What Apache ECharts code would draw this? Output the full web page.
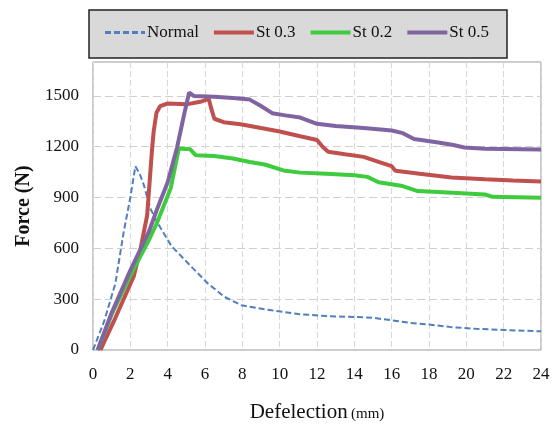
<!DOCTYPE html>
<html>
<head>
<meta charset="utf-8">
<script src="https://cdn.jsdelivr.net/npm/echarts@6/dist/echarts.min.js"></script>
<style>
  html, body { margin: 0; padding: 0; background: #fff; }
  #chart { width: 557px; height: 440px; }
</style>
</head>
<body>
<div id="chart"></div>
<script>
// values: [deflection mm, force N]
var normalData = [[0, 0], [0.6, 170], [1.2, 394], [1.64, 694], [2, 900], [2.27, 1084], [2.5, 1040],
  [2.72, 975], [3.08, 834], [3.44, 754], [4.2, 614], [5.25, 494], [6.14, 394], [7.04, 314],
  [7.95, 264], [9.57, 234], [11, 212], [12.5, 200], [14, 195], [15, 190], [16, 175], [17, 160],
  [18, 150], [19.2, 135], [20.5, 125], [22, 118], [24, 110]];
var st03Data = [[0.4, 0], [1.2, 190], [2.18, 434], [2.54, 594], [2.9, 794], [3.17, 1194], [3.25, 1290],
  [3.4, 1400], [3.6, 1440], [4, 1455], [5, 1450], [5.75, 1465], [6.2, 1482], [6.35, 1420],
  [6.5, 1365], [7, 1345], [7.9, 1333], [9, 1310], [10, 1290], [11.1, 1262], [12, 1240],
  [12.3, 1200], [12.6, 1170], [13.5, 1155], [14.5, 1140], [15.3, 1110], [16, 1085], [16.2, 1058],
  [17.5, 1040], [19.2, 1018], [21, 1008], [22.5, 1000], [24, 994]];
var st02Data = [[0.25, 0], [1, 210], [2, 440], [3, 650], [3.44, 754], [4.16, 954], [4.6, 1190],
  [5.2, 1185], [5.5, 1150], [6.5, 1145], [7.5, 1130], [8.4, 1110], [9.2, 1095], [10.2, 1060],
  [11.1, 1047], [12.5, 1040], [14, 1032], [14.7, 1022], [15.3, 990], [16.5, 970], [17.4, 938],
  [19, 930], [21, 918], [21.4, 904], [24, 899]];
var st05Data = [[0.25, 0], [1, 220], [2, 470], [3, 700], [3.44, 834], [4, 990], [4.5, 1194],
  [4.9, 1400], [5.15, 1520], [5.4, 1500], [6.5, 1495], [7.5, 1488], [8.4, 1478], [9, 1440],
  [9.6, 1398], [10.3, 1385], [11.1, 1372], [12, 1335], [13, 1322], [14.5, 1310], [16, 1296],
  [16.6, 1280], [17.2, 1245], [18.5, 1225], [19.3, 1210], [19.9, 1195], [21, 1188], [24, 1184]];

var seriesNames = ['Normal', 'St 0.3', 'St 0.2', 'St 0.5'];
var seriesColors = ['#4f7fbe', '#c0504d', '#3ecb3e', '#8064a2'];

var chart = echarts.init(document.getElementById('chart'));
var serif = '"Liberation Serif", "DejaVu Serif", serif';
var dashIcon = 'path://M0,0h6v3h-6z M9,0h6v3h-6z M18,0h6v3h-6z M27,0h6v3h-6z M36,0h4v3h-4z';

function lineSeries(i, data) {
  return {
    name: seriesNames[i],
    type: 'line',
    data: data,
    symbol: 'none',
    lineStyle: {
      color: seriesColors[i],
      width: i === 0 ? 2 : 4,
      type: i === 0 ? [6, 3] : 'solid'
    },
    itemStyle: { color: seriesColors[i] }
  };
}

chart.setOption({
  animation: false,
  backgroundColor: '#fff',
  graphic: [{
    type: 'rect',
    shape: { x: 89, y: 10, width: 418, height: 48 },
    style: { fill: '#d9d9d9', stroke: '#222', lineWidth: 1.5 },
    z: -1
  }],
  legend: {
    data: seriesNames.map(function (n, i) {
      return { name: n, icon: i === 0 ? dashIcon : 'rect' };
    }),
    left: 105,
    top: 24,
    padding: 0,
    itemGap: 15,
    itemWidth: 40,
    itemHeight: 4,
    textStyle: { fontFamily: serif, fontSize: 17, color: '#111', padding: [0, 0, 0, -3] }
  },
  grid: {
    left: 93,
    right: 16,
    top: 62,
    bottom: 90,
    show: true,
    borderColor: '#999',
    borderWidth: 1
  },
  xAxis: {
    type: 'value',
    min: 0,
    max: 24,
    interval: 2,
    name: '{a|Defelection} {b|(mm)}',
    nameLocation: 'middle',
    nameGap: 52,
    nameTextStyle: {
      rich: {
        a: { fontFamily: serif, fontSize: 21, color: '#111' },
        b: { fontFamily: serif, fontSize: 15, color: '#111', padding: [4, 0, 0, 0] }
      }
    },
    axisLine: { show: false },
    axisTick: { show: false },
    axisLabel: { fontFamily: serif, fontSize: 17, color: '#111', margin: 16 },
    splitLine: { show: true, lineStyle: { color: '#d8d8d8', type: [6, 3] } }
  },
  yAxis: {
    type: 'value',
    min: 0,
    max: 1700,
    interval: 300,
    name: 'Force (N)',
    nameLocation: 'middle',
    nameGap: 56,
    nameTextStyle: { fontFamily: serif, fontSize: 20, fontWeight: 'bold', color: '#111' },
    axisLine: { show: false },
    axisTick: { show: false },
    axisLabel: {
      fontFamily: serif, fontSize: 17, color: '#111', margin: 14, showMaxLabel: false,
      formatter: function (v) { return String(v); }
    },
    splitLine: { show: true, lineStyle: { color: '#d0d0d0', type: [8, 4] } }
  },
  series: [
    lineSeries(0, normalData),
    lineSeries(1, st03Data),
    lineSeries(2, st02Data),
    lineSeries(3, st05Data)
  ]
});
</script>
</body>
</html>
